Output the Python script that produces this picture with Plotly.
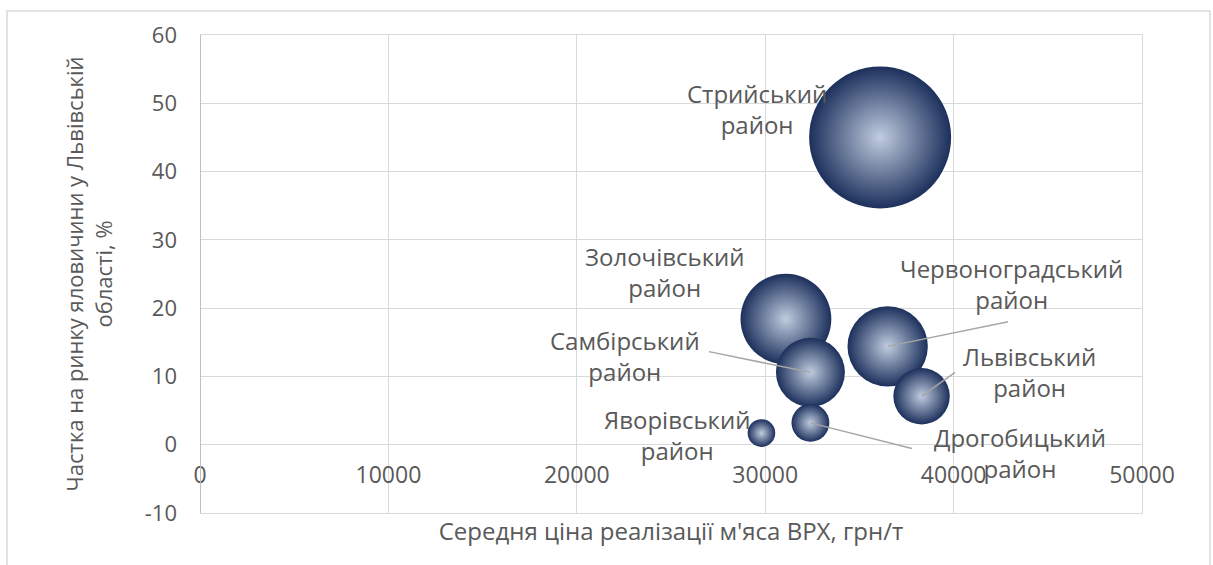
import plotly.graph_objects as go

# ---- data ----
districts = ["Стрийський<br>район", "Золочівський<br>район", "Червоноградський<br>район",
             "Самбірський<br>район", "Львівський<br>район", "Дрогобицький<br>район",
             "Яворівський<br>район"]
price = [36100, 31100, 36500, 32400, 38300, 32400, 29800]      # грн/т
share = [45.0, 18.4, 14.4, 10.6, 7.1, 3.2, 1.7]                 # %
bubble_size = [45.0, 18.4, 14.4, 10.6, 7.1, 3.2, 1.7]

x_ticks = [0, 10000, 20000, 30000, 40000, 50000]
y_ticks = [-10, 0, 10, 20, 30, 40, 50, 60]
y_tick_text = ["-10", "0", "10", "20", "30", "40", "50", "60"]

# label offsets in pixels (dx right, dy down) and leader-line ends
label_off = [(-123, -28), (-121, -47), (124, -62), (-185, -16), (108, -24), (210, 30), (-84, 2)]
leader_off = [None, None, (122, -25), (-103, -21), (35, -25), (103, 26), None]

GRAY_TXT = "#595959"
GRID = "#d9d9d9"
FONT = "Open Sans"
X_RANGE = [0, 50000]
Y_RANGE = [-10, 60]

max_d = 142
sizeref = 2.0 * max(bubble_size) / (max_d ** 2)

fig = go.Figure()
fig.add_trace(go.Scatter(
    x=price, y=share, mode="markers",
    marker=dict(size=bubble_size, sizemode="area", sizeref=sizeref,
                color="#1c305c", opacity=1,
                gradient=dict(type="radial", color="#c0ccdf"),
                line=dict(width=0)),
    hoverinfo="text", text=[d.replace("<br>", " ") for d in districts],
    showlegend=False,
))
# invisible trace on the overlay axes (frame lines of the plot area)
fig.add_trace(go.Scatter(x=[], y=[], xaxis="x2", yaxis="y2", showlegend=False, hoverinfo="skip"))

annotations = []
for i, name in enumerate(districts):
    dx, dy = label_off[i]
    if leader_off[i] is not None:
        lx, ly = leader_off[i]
        annotations.append(dict(
            x=price[i], y=share[i], xref="x", yref="y", text="",
            showarrow=True, arrowhead=0, ax=lx, ay=ly, axref="pixel", ayref="pixel",
            arrowcolor="#a6a6a6", arrowwidth=1.5, standoff=0, startstandoff=0))
    annotations.append(dict(
        x=price[i], y=share[i], xref="x", yref="y", text=name, showarrow=False,
        xshift=dx, yshift=-dy, align="center",
        font=dict(family=FONT, size=24, color=GRAY_TXT)))

# frame around the chart area
L, T, W, H = 200, 35, 942, 478
def px2paper_x(px):
    return (px - L) / W
def px2paper_y(py):
    return (T + H - py) / H

fig.update_layout(
    width=1213, height=565,
    margin=dict(l=L, r=1213 - L - W, t=T, b=565 - T - H),
    paper_bgcolor="white", plot_bgcolor="white",
    font=dict(family=FONT, color=GRAY_TXT),
    xaxis=dict(range=X_RANGE, tickvals=x_ticks, ticktext=[str(v) for v in x_ticks],
               showgrid=True, gridcolor=GRID, gridwidth=1, zeroline=False,
               showline=False, anchor="free", position=1 / 7,
               ticks="", ticklabelstandoff=14,
               tickfont=dict(family=FONT, size=23, color=GRAY_TXT),
               title=dict(text="Середня ціна реалізації м'яса ВРХ, грн/т",
                          font=dict(family=FONT, size=24, color=GRAY_TXT), standoff=34)),
    yaxis=dict(range=Y_RANGE, tickvals=y_ticks, ticktext=y_tick_text,
               showgrid=True, gridcolor=GRID, gridwidth=1,
               zeroline=True, zerolinecolor=GRID, zerolinewidth=1,
               showline=False,
               ticks="", ticklabelstandoff=22,
               tickfont=dict(family=FONT, size=22, color=GRAY_TXT),
               title=dict(text="Частка на ринку яловичини у Львівській<br>області, %",
                          font=dict(family=FONT, size=22, color=GRAY_TXT), standoff=26)),
    xaxis2=dict(range=X_RANGE, overlaying="x", anchor="y2", showline=True, mirror=True,
                linecolor=GRID, linewidth=1, showgrid=False, zeroline=False,
                showticklabels=False, ticks=""),
    yaxis2=dict(range=Y_RANGE, overlaying="y", anchor="x2", side="right", showline=True,
                linecolor=GRID, linewidth=1, showgrid=False, zeroline=False,
                showticklabels=False, ticks=""),
    annotations=annotations,
    shapes=[dict(type="rect", xref="paper", yref="paper",
                 x0=px2paper_x(7), x1=px2paper_x(1210), y0=px2paper_y(575), y1=px2paper_y(11),
                 line=dict(color=GRID, width=1.5), fillcolor="rgba(0,0,0,0)", layer="below"),
            # vertical value axis line at x = 0
            dict(type="line", xref="x", yref="paper", x0=0, x1=0, y0=0, y1=1,
                 line=dict(color="#bfbfbf", width=2), layer="above")],
)

fig.write_html("out.html")
